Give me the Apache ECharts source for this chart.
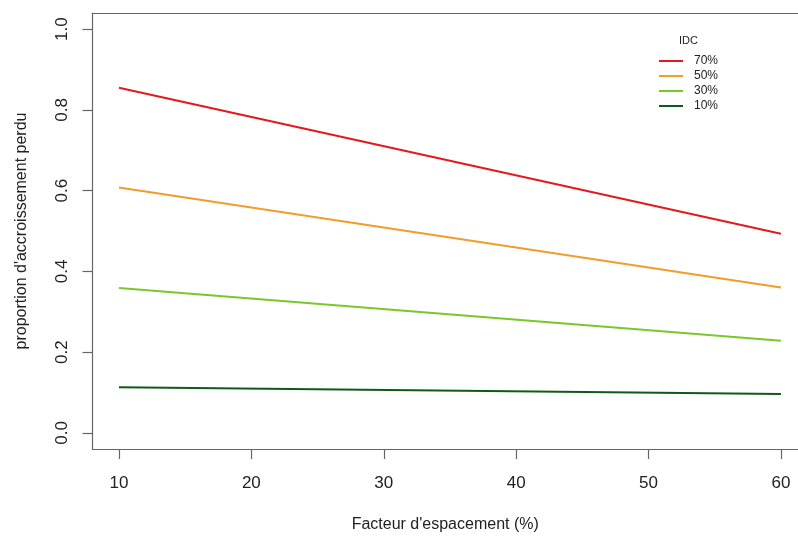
<!DOCTYPE html>
<html>
<head>
<meta charset="utf-8">
<script src="https://cdn.jsdelivr.net/npm/echarts@6/dist/echarts.min.js"></script>
<style>html,body{margin:0;padding:0;background:#fff}#c{width:798px;height:538px}</style>
</head>
<body>
<div id="c"></div>
<script>
const xValues = [10, 60];
const idc70 = [0.855, 0.493];
const idc50 = [0.608, 0.360];
const idc30 = [0.359, 0.228];
const idc10 = [0.113, 0.096];
const seriesNames = ['70%', '50%', '30%', '10%'];
const seriesColors = ['#e3191d', '#f39c2c', '#79c82a', '#0d5a19'];
const xTicks = [10, 20, 30, 40, 50, 60];
const yTicks = [0, 0.2, 0.4, 0.6, 0.8, 1.0];
const xTitle = "Facteur d'espacement (%)";
const yTitle = "proportion d'accroissement perdu";
const legendTitle = 'IDC';

const allData = [idc70, idc50, idc30, idc10];
const font = 'Liberation Sans, Arial, sans-serif';
const axisCol = '#666';

const chart = echarts.init(document.getElementById('c'));
chart.setOption({
  animation: false,
  backgroundColor: '#fff',
  textStyle: { fontFamily: font },
  title: {
    text: legendTitle, left: 679, top: 35, padding: 0,
    textStyle: { fontSize: 11, fontWeight: 'normal', color: '#222', fontFamily: font }
  },
  legend: {
    orient: 'vertical', left: 659, top: 55, padding: 0,
    itemWidth: 24, itemHeight: 2, itemGap: 3,
    icon: 'rect',
    textStyle: { fontSize: 12, color: '#222', fontFamily: font, padding: [0, 0, 0, 6] },
    data: seriesNames
  },
  grid: { left: 92.5, top: 13, right: 0, height: 438, show: false, containLabel: false },
  xAxis: [{
    type: 'value', min: 8, max: 61.29,
    name: xTitle, nameLocation: 'middle', nameGap: 68,
    nameTextStyle: { fontSize: 16, color: '#222', fontFamily: font },
    axisLine: { show: true, onZero: false, lineStyle: { color: axisCol, width: 1.2 } },
    splitLine: { show: false },
    axisTick: { show: true, length: 10, lineStyle: { color: axisCol, width: 1.2 }, customValues: xTicks },
    axisLabel: { fontSize: 17, color: '#222', margin: 26, fontFamily: font, customValues: xTicks }
  }, {
    type: 'value', min: 8, max: 61.29, position: 'top',
    axisLine: { show: true, onZero: false, lineStyle: { color: axisCol, width: 1.2 } },
    axisTick: { show: false }, axisLabel: { show: false }, splitLine: { show: false }
  }],
  yAxis: {
    type: 'value', min: -0.04, max: 1.04,
    name: yTitle, nameLocation: 'middle', nameGap: 63, nameRotate: 90,
    nameTextStyle: { fontSize: 16, color: '#222', fontFamily: font },
    axisLine: { show: true, onZero: false, lineStyle: { color: axisCol, width: 1.2 } },
    splitLine: { show: false },
    axisTick: { show: true, length: 10, lineStyle: { color: axisCol, width: 1.2 }, customValues: yTicks },
    axisLabel: { fontSize: 17, color: '#222', margin: 22, rotate: 90, fontFamily: font, customValues: yTicks,
      formatter: v => v.toFixed(1) }
  },
  series: seriesNames.map((n, i) => ({
    name: n, type: 'line', symbol: 'none',
    color: seriesColors[i],
    lineStyle: { width: 2, color: seriesColors[i] },
    data: xValues.map((x, j) => [x, allData[i][j]])
  }))
});
</script>
</body>
</html>
